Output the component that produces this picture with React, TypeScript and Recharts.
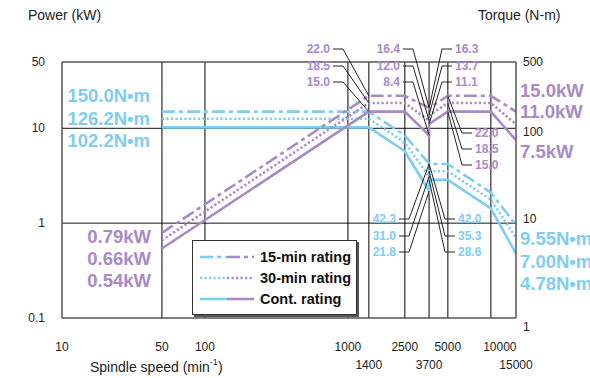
import { ComposedChart, Line, XAxis, YAxis, ReferenceLine, ReferenceDot, Legend } from "recharts";

const BLUE = "#7ecdf2";
const PURPLE = "#a88ac6";
const GRID = "#555";
const INK = "#222";
const FONT = '"Liberation Sans", Arial, Helvetica, sans-serif';

// spindle speed breakpoints (3700 appears twice: winding switch-over)
const speeds = [50, 1400, 2500, 3700, 3700, 5000, 10000, 15000];

// output power, kW
const power15 = [0.79, 22.0, 22.0, 16.4, 16.3, 22.0, 22.0, 15.0];
const power30 = [0.66, 18.5, 18.5, 12.0, 13.7, 18.5, 18.5, 11.0];
const powerCont = [0.54, 15.0, 15.0, 8.4, 11.1, 15.0, 15.0, 7.5];

// torque, N·m
const torque15 = [150.0, 150.0, 84.0, 42.3, 42.0, 42.0, 21.0, 9.55];
const torque30 = [126.2, 126.2, 70.7, 31.0, 35.3, 35.3, 17.7, 7.0];
const torqueCont = [102.2, 102.2, 57.3, 21.8, 28.6, 28.6, 14.3, 4.78];

const speedTicks = [10, 50, 100, 1000, 1400, 2500, 3700, 5000, 10000, 15000];
const lowerRowTicks = [1400, 3700, 15000];
const gridSpeeds = [50, 100, 1000, 1400, 2500, 3700, 5000, 10000];
const powerTicks = [0.1, 1, 10, 50];
const torqueTicks = [1, 10, 100, 500];
const gridPowers = [1, 10];

const ratingNames = ["15-min rating", "30-min rating", "Cont. rating"];
const powerSeries = [power15, power30, powerCont];
const torqueSeries = [torque15, torque30, torqueCont];
const dashes = ["13 4 4 4", "2.2 2.3", undefined];

const toPoints = (vals: number[]) => speeds.map((speed, i) => ({ speed, value: vals[i] }));

// leader-line callouts: which point of each rating they point to, and where the text sits
const callouts = [
  { axis: "power", idx: 1, side: "left", textX: 330, rows: [49, 66, 82] },
  { axis: "power", idx: 3, side: "left", textX: 400, rows: [49, 66, 82] },
  { axis: "power", idx: 4, side: "right", textX: 455, rows: [49, 66, 82] },
  { axis: "power", idx: 5, side: "right", textX: 475, rows: [133, 149, 165] },
  { axis: "torque", idx: 3, side: "left", textX: 396, rows: [219, 236, 252] },
  { axis: "torque", idx: 4, side: "right", textX: 458, rows: [219, 236, 252] },
];

function calloutShape(text: string, color: string, side: string, textX: number, rowY: number) {
  return (p: any) => {
    const dir = side === "left" ? 1 : -1;
    const x1 = textX + 3 * dir;
    const x2 = textX + 13 * dir;
    return (
      <g>
        <polyline points={`${x1},${rowY} ${x2},${rowY} ${p.cx},${p.cy}`} fill="none" stroke={INK} strokeWidth={1} />
        <text x={textX} y={rowY} textAnchor={side === "left" ? "end" : "start"} dominantBaseline="central"
          fontSize={12} fontWeight="bold" fill={color} fontFamily={FONT}>{text}</text>
      </g>
    );
  };
}

function SpeedTick({ x, y, payload }: any) {
  const v = payload.value;
  const lower = lowerRowTicks.includes(v);
  const dx = v === 10000 ? 9 : 0;
  return (
    <text x={x + dx} y={y + (lower ? 39 : 21)} textAnchor="middle" dominantBaseline="central" fontSize={12} fill={INK} fontFamily={FONT}>
      {v}
    </text>
  );
}

function PowerTick({ x, y, payload }: any) {
  return (
    <text x={x} y={y} textAnchor="end" dominantBaseline="central" fontSize={12} fill={INK} fontFamily={FONT}>
      {payload.value}
    </text>
  );
}

const torqueTickNudge: Record<number, number> = { 500: 0, 100: 4, 10: -4, 1: 9 };

function TorqueTick({ x, y, payload }: any) {
  return (
    <text x={x} y={y + (torqueTickNudge[payload.value] ?? 0)} textAnchor="start" dominantBaseline="central" fontSize={12} fill={INK} fontFamily={FONT}>
      {payload.value}
    </text>
  );
}

function RatingLegend() {
  return (
    <div style={{ width: 163, height: 68, border: "1px solid #333", boxShadow: "2px 2px 0 #555", background: "#fff", boxSizing: "content-box", paddingTop: 5, fontFamily: FONT }}>
      {ratingNames.map((name, i) => (
        <div key={name} style={{ display: "flex", alignItems: "center", height: 21 }}>
          <svg width={60} height={10} style={{ marginLeft: 7 }}>
            <line x1={0} y1={5} x2={27} y2={5} stroke={BLUE} strokeWidth={2.6} strokeDasharray={dashes[i]} />
            <line x1={27} y1={5} x2={54} y2={5} stroke={PURPLE} strokeWidth={2.6} strokeDasharray={dashes[i]} />
          </svg>
          <span style={{ fontSize: 14.5, fontWeight: "bold", color: "#111" }}>{name}</span>
        </div>
      ))}
    </div>
  );
}

const last = speeds.length - 1;
const sideLabels = [
  { text: `${torque15[0].toFixed(1)}N•m`, x: 150, y: 95, anchor: "end", color: BLUE },
  { text: `${torque30[0].toFixed(1)}N•m`, x: 150, y: 118, anchor: "end", color: BLUE },
  { text: `${torqueCont[0].toFixed(1)}N•m`, x: 150, y: 140, anchor: "end", color: BLUE },
  { text: `${power15[0].toFixed(2)}kW`, x: 151, y: 236, anchor: "end", color: PURPLE },
  { text: `${power30[0].toFixed(2)}kW`, x: 151, y: 258, anchor: "end", color: PURPLE },
  { text: `${powerCont[0].toFixed(2)}kW`, x: 151, y: 280, anchor: "end", color: PURPLE },
  { text: `${power15[last].toFixed(1)}kW`, x: 520, y: 90, anchor: "start", color: PURPLE },
  { text: `${power30[last].toFixed(1)}kW`, x: 520, y: 111, anchor: "start", color: PURPLE },
  { text: `${powerCont[last].toFixed(1)}kW`, x: 520, y: 151, anchor: "start", color: PURPLE },
  { text: `${torque15[last].toFixed(2)}N•m`, x: 520, y: 238, anchor: "start", color: BLUE },
  { text: `${torque30[last].toFixed(2)}N•m`, x: 520, y: 261, anchor: "start", color: BLUE },
  { text: `${torqueCont[last].toFixed(2)}N•m`, x: 520, y: 283, anchor: "start", color: BLUE },
];

export default function App() {
  return (
    <div style={{ position: "absolute", left: 0, top: 0, width: 590, height: 378, overflow: "hidden", background: "#fff", fontFamily: FONT }}>
      <ComposedChart width={590} height={378} margin={{ top: 62, right: 0, bottom: 0, left: 0 }}>
        <XAxis dataKey="speed" type="number" scale="log" domain={[10, 15000]} allowDataOverflow ticks={speedTicks}
          height={60} tickLine={false} axisLine={{ stroke: GRID, strokeWidth: 1.5 }} tick={<SpeedTick />} interval={0} />
        <YAxis yAxisId="power" orientation="left" type="number" scale="log" domain={[0.1, 50]} allowDataOverflow ticks={powerTicks}
          width={62} tickLine={false} tickMargin={11} axisLine={{ stroke: GRID, strokeWidth: 1.5 }} tick={<PowerTick />} interval={0} />
        <YAxis yAxisId="torque" orientation="right" type="number" scale="log" domain={[1, 500]} allowDataOverflow ticks={torqueTicks}
          width={74} tickLine={false} tickMargin={1} axisLine={{ stroke: GRID, strokeWidth: 1.5 }} tick={<TorqueTick />} interval={0} />

        <ReferenceLine yAxisId="power" y={50} stroke={GRID} strokeWidth={1.5} />
        {gridSpeeds.map((s) => (
          <ReferenceLine key={`gx${s}`} yAxisId="power" x={s} stroke={GRID} strokeWidth={1.5} />
        ))}
        {gridPowers.map((p) => (
          <ReferenceLine key={`gy${p}`} yAxisId="power" y={p} stroke="#111" strokeWidth={1} />
        ))}

        {torqueSeries.map((vals, i) => (
          <Line key={`t${i}`} yAxisId="torque" data={toPoints(vals)} dataKey="value" type="linear" stroke={BLUE}
            strokeWidth={2.6} strokeDasharray={dashes[i]} dot={false} activeDot={false} isAnimationActive={false} />
        ))}
        {powerSeries.map((vals, i) => (
          <Line key={`p${i}`} yAxisId="power" data={toPoints(vals)} dataKey="value" type="linear" stroke={PURPLE}
            strokeWidth={2.6} strokeDasharray={dashes[i]} dot={false} activeDot={false} isAnimationActive={false} />
        ))}

        {callouts.flatMap((c, ci) => {
          const series = c.axis === "power" ? powerSeries : torqueSeries;
          const color = c.axis === "power" ? PURPLE : BLUE;
          return series.map((vals, i) => (
            <ReferenceDot key={`c${ci}-${i}`} yAxisId={c.axis} x={speeds[c.idx]} y={vals[c.idx]} r={0}
              shape={calloutShape(vals[c.idx].toFixed(1), color, c.side, c.textX, c.rows[i])} />
          ));
        })}

        <Legend layout="vertical" align="center" verticalAlign="middle" content={<RatingLegend />}
          wrapperStyle={{ left: 192, top: 240, width: 165, height: 74 }} />
      </ComposedChart>

      <svg width={590} height={378} style={{ position: "absolute", left: 0, top: 0, pointerEvents: "none" }}>
        <text x={28} y={15} dominantBaseline="central" fontSize={14} fill={INK} fontFamily={FONT}>Power (kW)</text>
        <text x={478} y={15} dominantBaseline="central" fontSize={14} fill={INK} fontFamily={FONT}>Torque (N-m)</text>
        <text x={90} y={367} dominantBaseline="central" fontSize={14} fill={INK} fontFamily={FONT}>
          Spindle speed (min<tspan fontSize={9} dy={-5}>-1</tspan><tspan dy={5}>)</tspan>
        </text>
        {sideLabels.map((l) => (
          <text key={l.text} x={l.x} y={l.y} textAnchor={l.anchor as any} dominantBaseline="central" fontSize={18.5}
            fontWeight="bold" fill={l.color} fontFamily={FONT}>{l.text}</text>
        ))}
      </svg>
    </div>
  );
}
